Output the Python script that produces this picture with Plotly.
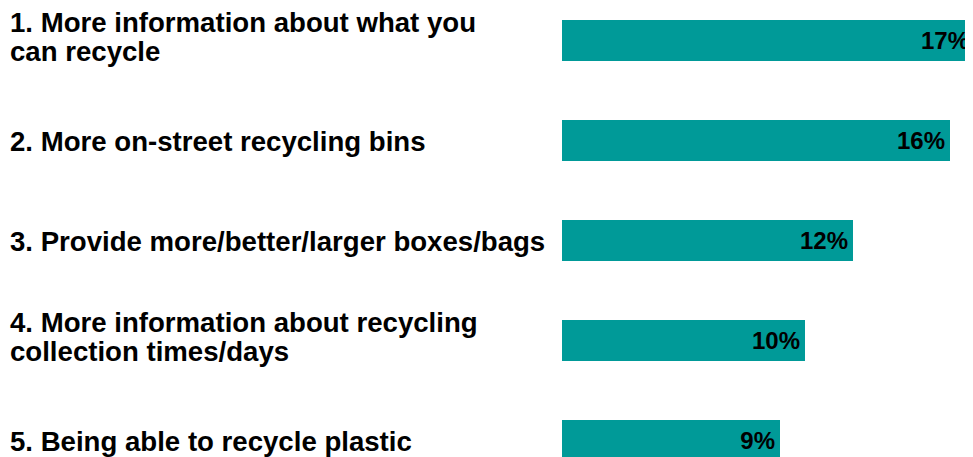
import plotly.graph_objects as go

categories = [
    "1. More information about what you<br>can recycle",
    "2. More on-street recycling bins",
    "3. Provide more/better/larger boxes/bags",
    "4. More information about recycling<br>collection times/days",
    "5. Being able to recycle plastic",
]
values = [17, 16, 12, 10, 9]
value_labels = ["17%", "16%", "12%", "10%", "9%"]

# page has an 8px body margin, so the figure is sized to fit the window
W, H = 965, 449
left = 554
plot_w = W - left
px_per_unit = 24.25
bar_color = "#009A98"
font_family = "Liberation Sans, Arial, sans-serif"

fig = go.Figure()
fig.add_trace(go.Bar(
    x=values,
    y=list(range(len(categories))),
    orientation="h",
    marker=dict(color=bar_color, line=dict(width=0)),
    width=0.407,
    text=[v + "\u200a" for v in value_labels],
    textposition="inside",
    insidetextanchor="end",
    textangle=0,
    textfont=dict(family=font_family, size=24, color="black", weight="bold"),
    hoverinfo="skip",
))

# vertical offsets (px, downward) of each text line's centre from the bar centre
two_line_offsets = [-18, 11]
one_line_offsets = [1]

annotations = []
for i, cat in enumerate(categories):
    lines = cat.split("<br>")
    offs = two_line_offsets if len(lines) == 2 else one_line_offsets
    for line, off in zip(lines, offs):
        annotations.append(dict(
            xref="paper", yref="y",
            x=-left / plot_w, y=i,
            xanchor="left", yanchor="middle",
            text=line, showarrow=False, align="left",
            yshift=-off,
            font=dict(family=font_family, size=27.6, color="black", weight="bold"),
        ))

fig.update_layout(
    width=W, height=H,
    margin=dict(l=left, r=0, t=0, b=0),
    paper_bgcolor="white", plot_bgcolor="white",
    showlegend=False,
    annotations=annotations,
    xaxis=dict(range=[0, plot_w / px_per_unit], visible=False, fixedrange=True),
    yaxis=dict(range=[-0.323 + H / 100, -0.323], visible=False, fixedrange=True),
    bargap=0,
)

fig.write_html("out.html")
